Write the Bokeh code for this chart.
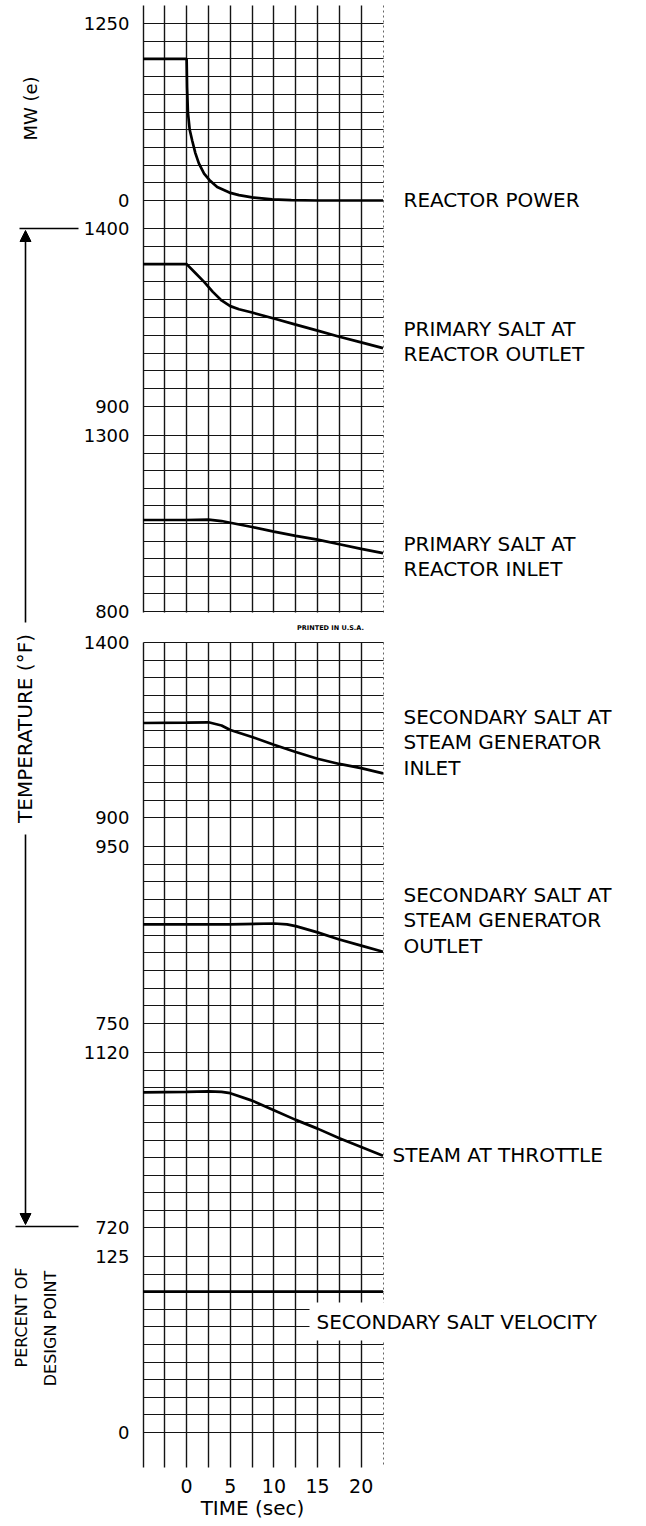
import numpy as np
from bokeh.plotting import figure
from bokeh.models import (Range1d, Grid, FixedTicker, Label, Arrow, NormalHead,
                          BoxAnnotation)
from bokeh.embed import file_html
from bokeh.resources import INLINE

# ------------------------------------------------------------------ data
time_ticks = [0, 5, 10, 15, 20]

power_time = [-5, 0, 0.05, 0.15, 0.35, 0.65, 1.0, 1.4, 2.0, 2.6, 3.5, 4.9, 6.0, 7.5, 9.8, 12.0, 15.0, 22.5]
power_mw = [1000, 1000, 800, 620, 500, 420, 335, 262, 190, 145, 95, 56, 38, 22, 8, 2, 0, 0]

outlet_time = [-5, 0, 1, 2, 3, 4, 5, 6, 7.5, 10, 12.5, 15, 17.5, 20, 22.5]
outlet_temp = [1300, 1300, 1275, 1250, 1222, 1198, 1182, 1173, 1164, 1147, 1130, 1113, 1096, 1080, 1064]

inlet_time = [-5, 0, 2.5, 4, 5, 7.5, 10, 12.5, 15, 17.5, 20, 22.5]
inlet_temp = [1060, 1060, 1061, 1057, 1052, 1040, 1027, 1015, 1004, 991, 978, 966]

sg_in_time = [-5, 0, 2.5, 4, 5, 7.5, 10, 12.5, 15, 17.5, 20, 22.5]
sg_in_temp = [1170, 1171, 1172, 1163, 1150, 1130, 1108, 1087, 1068, 1053, 1041, 1026]

sg_out_time = [-5, 0, 5, 10, 11.5, 12.5, 15, 17.5, 20, 22.5]
sg_out_temp = [862, 862, 862, 863, 862, 860, 853, 845, 838, 831]

steam_time = [-5, 0, 2.5, 4, 5, 7.5, 10, 12.5, 15, 17.5, 20, 22.5]
steam_temp = [1029, 1030, 1031, 1030, 1027, 1010, 988, 966, 946, 924, 904, 884]

velocity_time = [-5, 22.5]
velocity_pct = [100, 100]

# panel scale labels (top value, bottom value)
panel_names = ["power", "outlet", "inlet", "sg_in", "sg_out", "steam", "velocity"]
panel_top_vals = [1250, 1400, 1300, 1400, 950, 1120, 125]
panel_bottom_vals = [0, 900, 800, 900, 750, 720, 0]

series_labels = [
    ["REACTOR POWER"],
    ["PRIMARY SALT AT", "REACTOR OUTLET"],
    ["PRIMARY SALT AT", "REACTOR INLET"],
    ["SECONDARY SALT AT", "STEAM GENERATOR", "INLET"],
    ["SECONDARY SALT AT", "STEAM GENERATOR", "OUTLET"],
    ["STEAM AT THROTTLE"],
    ["SECONDARY SALT VELOCITY"],
]

# ------------------------------------------------------------------ layout
FONT = "DejaVu Sans"
PAGE = 0
W, H = 644, 1524
T_MIN, T_MAX = -5, 22.5               # extent of the graph paper in time
GRID_LEFT_PX, GRID_RIGHT_PX = 142.5, 382.5
PX_PER_S = (GRID_RIGHT_PX - GRID_LEFT_PX) / (T_MAX - T_MIN)
SHEET1 = (5, 611.5)                   # page-y extent of upper sheet of graph paper
SHEET2 = (641.5, 1467)                # page-y extent of lower sheet

# page-pixel extent of each panel's scale (top label row, bottom label row)
panel_top_px = [23, 228, 435, 642, 846, 1052, 1256]
panel_bottom_px = [200, 406, 611, 817, 1023, 1227, 1432]

# label anchor positions (page px)
series_label_xy = [(403, 199), (403, 328), (403, 543), (403, 716), (403, 894), (392, 1154), (309, 1321)]
LINE_STEP = 25.5


def tx(px):
    """page x pixel -> time coordinate"""
    return T_MIN + (px - GRID_LEFT_PX) / PX_PER_S


x_start, x_end = tx(PAGE), tx(PAGE + W)

p = figure(width=W, height=H,
           x_range=Range1d(x_start, x_end), y_range=Range1d(PAGE + H, PAGE),
           x_axis_location=None, y_axis_location=None,
           output_backend="svg", toolbar_location=None, min_border=0)
p.outline_line_color = None
p.grid.grid_line_color = None
p.background_fill_color = "white"
p.border_fill_color = "white"

GRID_COLOR = "#141414"
HAS_CB = "cross_bounds" in Grid.properties()


def add_grid(dimension, ticks, cross, y_range_name="default", **style):
    kw = dict(dimension=dimension, ticker=FixedTicker(ticks=list(ticks)),
              y_range_name=y_range_name, **style)
    if HAS_CB:
        kw["cross_bounds"] = cross
    p.add_layout(Grid(**kw))


# vertical grid lines (two sheets)
vticks = np.arange(T_MIN, 20.01, 2.5)
for sheet in (SHEET1, SHEET2):
    add_grid(0, vticks, sheet, grid_line_color=GRID_COLOR, grid_line_width=1.4)
    add_grid(0, [T_MAX], sheet, grid_line_color="#666666", grid_line_width=1,
             grid_line_dash="2 3")

# per-panel scales and horizontal grid lines
for name, tv, bv, ytp, ybp in zip(panel_names, panel_top_vals, panel_bottom_vals,
                                   panel_top_px, panel_bottom_px):
    slope = (tv - bv) / (ybp - ytp)
    p.extra_y_ranges[name] = Range1d(bv + (ybp - (PAGE + H)) * slope,
                                     bv + (ybp - PAGE) * slope)
    add_grid(1, np.linspace(bv, tv, 11), (T_MIN, T_MAX), y_range_name=name,
             grid_line_color=GRID_COLOR, grid_line_width=1.1)

# masks if the grid cannot be bounded
if not HAS_CB:
    for kw in (dict(left=x_start, right=T_MIN - 0.06, top=PAGE, bottom=PAGE + H),
               dict(left=T_MAX + 0.06, right=x_end, top=PAGE, bottom=PAGE + H),
               dict(left=x_start, right=x_end, top=SHEET1[1] + 1, bottom=SHEET2[0] - 1),
               dict(left=x_start, right=x_end, top=PAGE, bottom=SHEET1[0]),
               dict(left=x_start, right=x_end, top=SHEET2[1], bottom=PAGE + H)):
        p.add_layout(BoxAnnotation(fill_color="white", fill_alpha=1, line_color=None, **kw))

# scale labels on the left
for name, tv, bv in zip(panel_names, panel_top_vals, panel_bottom_vals):
    for v in (tv, bv):
        p.add_layout(Label(x=tx(129), y=v, y_range_name=name, text=str(v),
                           text_align="right", text_baseline="middle",
                           text_font=FONT, text_font_size="18px", text_color="black"))

p.add_layout(Label(x=tx(330), y=627, text="PRINTED IN U.S.A.", text_align="center",
                   text_baseline="middle", text_font=FONT, text_font_size="6.5px",
                   text_font_style="bold", text_color="black"))

# curves
series = [(power_time, power_mw), (outlet_time, outlet_temp), (inlet_time, inlet_temp),
          (sg_in_time, sg_in_temp), (sg_out_time, sg_out_temp), (steam_time, steam_temp),
          (velocity_time, velocity_pct)]
for name, (t, v) in zip(panel_names, series):
    p.line(t, v, y_range_name=name, line_color="black", line_width=2.7)

# series labels at right
for i, (lines, (lx, ly)) in enumerate(zip(series_labels, series_label_xy)):
    for k, txt in enumerate(lines):
        kw = {}
        if i == len(series_labels) - 1:
            kw = dict(background_fill_color="white", background_fill_alpha=1.0, padding=7)
        p.add_layout(Label(x=tx(lx), y=ly + k * LINE_STEP, text=txt, text_align="left",
                           text_baseline="middle", text_font=FONT, text_font_size="20px",
                           text_color="black", **kw))

# left-side titles
p.add_layout(Label(x=tx(30), y=108, text="MW (e)", angle=90, angle_units="deg",
                   text_align="center", text_baseline="middle", text_font=FONT,
                   text_font_size="18px", text_color="black"))
p.add_layout(Label(x=tx(24), y=728, text="TEMPERATURE (°F)", angle=90, angle_units="deg",
                   text_align="center", text_baseline="middle", text_font=FONT,
                   text_font_size="20px", text_color="black"))
p.add_layout(Label(x=tx(21), y=1317, text="PERCENT OF", angle=90, angle_units="deg",
                   text_align="center", text_baseline="middle", text_font=FONT,
                   text_font_size="16px", text_color="black"))
p.add_layout(Label(x=tx(50), y=1328, text="DESIGN POINT", angle=90, angle_units="deg",
                   text_align="center", text_baseline="middle", text_font=FONT,
                   text_font_size="16px", text_color="black"))

# temperature span arrows
AX = tx(25)
p.add_layout(Arrow(x_start=AX, y_start=622, x_end=AX, y_end=230,
                   end=NormalHead(size=11, fill_color="black", line_color="black"),
                   line_color="black", line_width=1.6))
p.add_layout(Arrow(x_start=AX, y_start=834, x_end=AX, y_end=1224,
                   end=NormalHead(size=11, fill_color="black", line_color="black"),
                   line_color="black", line_width=1.6))
p.add_layout(Arrow(x_start=tx(19), y_start=228, x_end=tx(78), y_end=228, end=None,
                   line_color="black", line_width=1.6))
p.add_layout(Arrow(x_start=tx(15), y_start=1226, x_end=tx(78), y_end=1226, end=None,
                   line_color="black", line_width=1.6))

# time ticks and title
for t in time_ticks:
    p.add_layout(Label(x=t, y=1485, text=str(t), text_align="center", text_baseline="middle",
                       text_font=FONT, text_font_size="19px", text_color="black"))
p.add_layout(Label(x=tx(252), y=1507, text="TIME (sec)", text_align="center",
                   text_baseline="middle", text_font=FONT, text_font_size="20px",
                   text_color="black"))

open("out.html", "w").write(file_html(p, INLINE))
